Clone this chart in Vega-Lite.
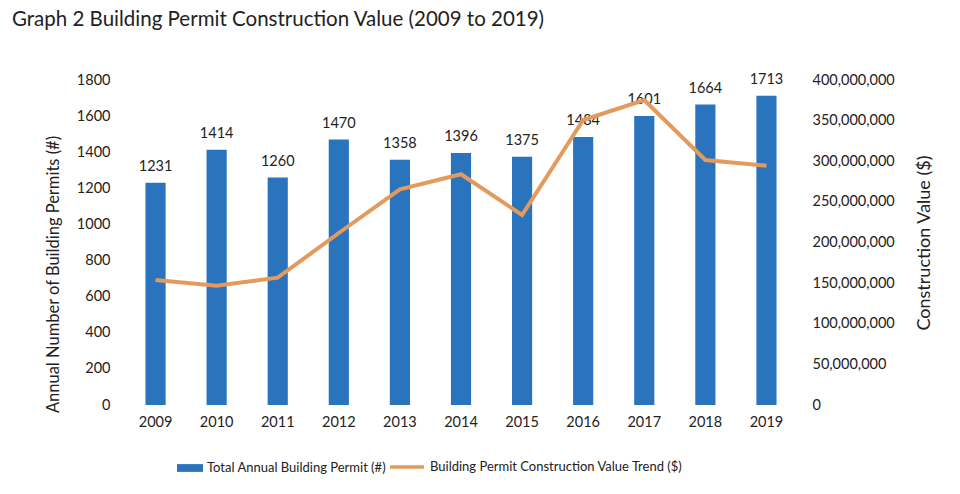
{
  "$schema": "https://vega.github.io/schema/vega-lite/v6.json",
  "autosize": {"type": "none"},
  "width": 672,
  "height": 325,
  "padding": {"left": 125, "top": 80, "right": 163, "bottom": 89},
  "background": "white",
  "title": {
    "text": "Graph 2 Building Permit Construction Value (2009 to 2019)",
    "anchor": "start",
    "frame": "group",
    "dx": -113,
    "offset": 41,
    "font": "Lato",
    "fontSize": 20.5,
    "fontWeight": "normal",
    "color": "#222222"
  },
  "config": {
    "view": {"stroke": null},
    "font": "Lato",
    "axis": {"labelFont": "Lato", "titleFont": "Lato", "labelColor": "#222222", "titleColor": "#222222", "labelFontSize": 14.5, "titleFontSize": 17, "titleFontWeight": "normal", "grid": false, "ticks": false, "domain": false},
    "legend": {"labelFont": "Lato", "labelFontSize": 13, "labelColor": "#222222", "labelLimit": 0}
  },
  "data": {
    "values": [
      {"year": "2009", "permits": 1231, "value": 153800000},
      {"year": "2010", "permits": 1414, "value": 146800000},
      {"year": "2011", "permits": 1260, "value": 156700000},
      {"year": "2012", "permits": 1470, "value": 211700000},
      {"year": "2013", "permits": 1358, "value": 265500000},
      {"year": "2014", "permits": 1396, "value": 284000000},
      {"year": "2015", "permits": 1375, "value": 233800000},
      {"year": "2016", "permits": 1484, "value": 350800000},
      {"year": "2017", "permits": 1601, "value": 375400000},
      {"year": "2018", "permits": 1664, "value": 301500000},
      {"year": "2019", "permits": 1713, "value": 294500000}
    ]
  },
  "encoding": {
    "x": {"field": "year", "type": "nominal", "scale": {"paddingInner": 0.67, "paddingOuter": 0.335}, "axis": {"title": null, "labelAngle": 0, "labelPadding": 10}}
  },
  "layer": [
    {
      "encoding": {
        "y": {"field": "permits", "type": "quantitative", "scale": {"domain": [0, 1800]}, "axis": {"title": "Annual Number of Building Permits (#)", "titleFontSize": 16.5, "values": [0,200,400,600,800,1000,1200,1400,1600,1800], "format": "d", "labelPadding": 15, "titlePadding": 15, "titleY": 194}}
      },
      "layer": [
        {
          "mark": {"type": "bar"},
          "encoding": {
            "color": {"datum": "Total Annual Building Permit (#)", "type": "nominal", "scale": {"range": ["#2a74be"]}, "legend": {"title": null, "orient": "none", "legendX": 52, "legendY": 375, "symbolType": "M-1,-0.3H1V0.3H-1Z", "symbolSize": 676, "symbolStrokeWidth": 0, "symbolOpacity": 1}}
          }
        },
        {
          "mark": {"type": "text", "baseline": "bottom", "dy": -9, "fontSize": 14.5, "color": "#222222"},
          "encoding": {
            "text": {"field": "permits", "type": "quantitative", "format": "d"}
          }
        }
      ]
    },
    {
      "mark": {"type": "line", "strokeWidth": 4, "color": "#e39a5c"},
      "encoding": {
        "y": {"field": "value", "type": "quantitative", "scale": {"domain": [0, 400000000]}, "axis": {"title": "Construction Value ($)", "titleFontSize": 18, "orient": "right", "titleAngle": 270, "labelExpr": "format(datum.value, ',')", "values": [0,50000000,100000000,150000000,200000000,250000000,300000000,350000000,400000000], "labelPadding": 15, "titlePadding": 39}},
        "color": {"datum": "Building Permit Construction Value Trend ($)", "type": "nominal", "scale": {"range": ["#e39a5c"]}, "legend": {"title": null, "orient": "none", "legendX": 263, "legendY": 368, "symbolType": "stroke", "symbolSize": 1156, "symbolStrokeWidth": 3.5}}
      }
    }
  ],
  "resolve": {"scale": {"y": "independent", "color": "independent"}}
}
